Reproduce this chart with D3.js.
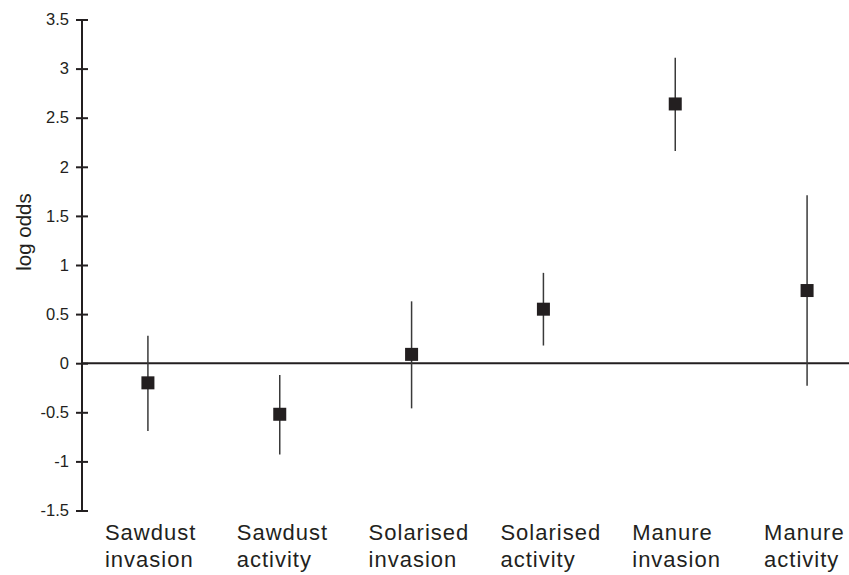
<!DOCTYPE html>
<html>
<head>
<meta charset="utf-8">
<script src="https://cdn.jsdelivr.net/npm/d3@7"></script>
<style>
  html, body { margin: 0; padding: 0; background: #fff; }
  svg { display: block; font-family: "Liberation Sans", Arial, Helvetica, sans-serif; }
</style>
</head>
<body>
<svg id="chart" width="849" height="575"></svg>
<script>
const categoriesLine1 = ["Sawdust", "Sawdust", "Solarised", "Solarised", "Manure", "Manure"];
const categoriesLine2 = ["invasion", "activity", "invasion", "activity", "invasion", "activity"];
const categories = categoriesLine1.map((d, i) => d + " " + categoriesLine2[i]);
const estimate = [-0.20, -0.52, 0.09, 0.55, 2.64, 0.74];
const upper    = [0.28, -0.12, 0.63, 0.92, 3.11, 1.71];
const lower    = [-0.69, -0.93, -0.46, 0.18, 2.16, -0.23];
const yTicks = [-1.5, -1, -0.5, 0, 0.5, 1, 1.5, 2, 2.5, 3, 3.5];
const yTickLabels = ["-1.5", "-1", "-0.5", "0", "0.5", "1", "1.5", "2", "2.5", "3", "3.5"];

const ink = "#231f20";
const svg = d3.select("#chart");

const x = d3.scaleBand().domain(categories).range([82, 873]);
const y = d3.scaleLinear().domain([-1.5, 3.5]).range([510.5, 19.5]);

// y axis
const yAxis = d3.axisLeft(y)
  .tickValues(yTicks)
  .tickFormat((d, i) => yTickLabels[i])
  .tickSize(0)
  .tickPadding(13);
const gy = svg.append("g").attr("transform", "translate(82,0)").call(yAxis);
gy.select(".domain").remove();
gy.selectAll("text").attr("font-size", 16.5).attr("fill", ink)
  .attr("font-family", "'Liberation Sans', Arial, sans-serif");
gy.selectAll(".tick").append("line")
  .attr("x1", -6).attr("x2", 6)
  .attr("stroke", ink).attr("stroke-width", 2);
svg.append("line")
  .attr("x1", 82).attr("x2", 82)
  .attr("y1", y(3.5)).attr("y2", y(-1.5))
  .attr("stroke", ink).attr("stroke-width", 2);

// zero line
svg.append("line")
  .attr("x1", 82).attr("x2", 849)
  .attr("y1", y(0)).attr("y2", y(0))
  .attr("stroke", ink).attr("stroke-width", 2);

// y label
svg.append("text")
  .attr("transform", `translate(31,232) rotate(-90)`)
  .attr("text-anchor", "middle")
  .attr("font-size", 20.5)
  .attr("fill", ink)
  .text("log odds");

// error bars
const cx = d => x(d) + x.bandwidth() / 2;
svg.append("g").selectAll("line")
  .data(categories)
  .join("line")
  .attr("x1", d => cx(d)).attr("x2", d => cx(d))
  .attr("y1", (d, i) => y(upper[i]))
  .attr("y2", (d, i) => y(lower[i]))
  .attr("stroke", "#3a3a3a").attr("stroke-width", 1.5);

// points
const s = 13;
svg.append("g").selectAll("rect")
  .data(categories)
  .join("rect")
  .attr("x", d => cx(d) - s / 2)
  .attr("y", (d, i) => y(estimate[i]) - s / 2)
  .attr("width", s).attr("height", s)
  .attr("fill", ink);

// category labels
const lab = svg.append("g").selectAll("text")
  .data(categories)
  .join("text")
  .attr("x", d => cx(d) - 43)
  .attr("y", 540)
  .attr("font-size", 22)
  .attr("letter-spacing", 1)
  .attr("fill", ink);
lab.append("tspan").text((d, i) => categoriesLine1[i]);
lab.append("tspan")
  .attr("x", d => cx(d) - 43)
  .attr("dy", 27)
  .text((d, i) => categoriesLine2[i]);
</script>
</body>
</html>
